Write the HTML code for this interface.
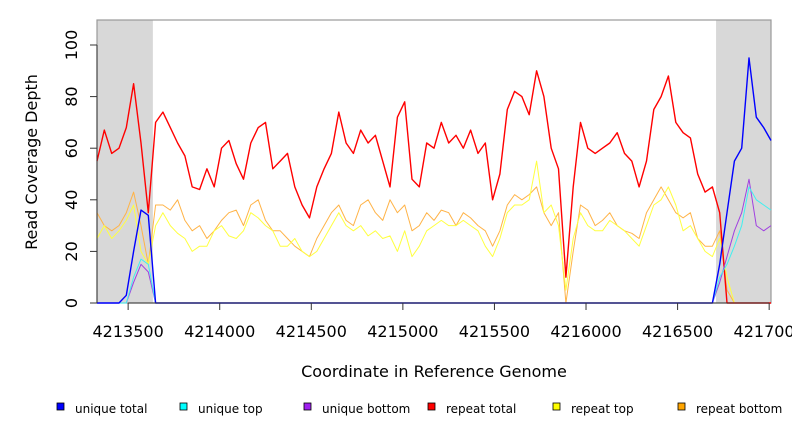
<!DOCTYPE html>
<html><head><meta charset="utf-8"><style>
body{margin:0;background:#fff;font-family:"Liberation Sans","DejaVu Sans",sans-serif}
svg text{font-family:"DejaVu Sans","Liberation Sans",sans-serif}
</style></head><body>
<svg id="chart" width="792" height="432" viewBox="0 0 792 432">
<g id="bg"></g><g id="series"></g><g id="axes"></g><g id="legend"></g>
</svg>
<script>
const startCoord = 4213330;
const stepBp = 40;
const repeatTotal = [55,67,58,60,68,85,62,35,70,74,68,62,57,45,44,52,45,60,63,54,48,62,68,70,52,55,58,45,38,33,45,52,58,74,62,58,67,62,65,55,45,72,78,48,45,62,60,70,62,65,60,67,58,62,40,50,75,82,80,73,90,80,60,52,10,45,70,60,58,60,62,66,58,55,45,55,75,80,88,70,66,64,50,43,45,35,0,0,0,0,0,0,0];
const repeatTop = [25,30,25,28,32,38,20,15,30,35,30,27,25,20,22,22,28,30,26,25,28,35,33,30,28,22,22,25,20,18,20,25,30,35,30,28,30,26,28,25,26,20,28,18,22,28,30,32,30,30,32,30,28,22,18,25,35,38,38,40,55,35,38,30,5,25,35,30,28,28,32,30,28,25,22,30,38,40,45,38,28,30,25,20,18,25,10,0,0,0,0,0,0];
const repeatBottom = [35,30,28,30,35,43,30,15,38,38,36,40,32,28,30,25,28,32,35,36,30,38,40,32,28,28,25,22,20,18,25,30,35,38,32,30,38,40,35,32,40,35,38,28,30,35,32,36,35,30,35,33,30,28,22,28,38,42,40,42,45,35,30,35,0,20,38,36,30,32,35,30,28,27,25,35,40,45,40,35,33,35,25,22,22,28,5,0,0,0,0,0,0];
const uniqueTotal = [0,0,0,0,3,20,36,34,0,0,0,0,0,0,0,0,0,0,0,0,0,0,0,0,0,0,0,0,0,0,0,0,0,0,0,0,0,0,0,0,0,0,0,0,0,0,0,0,0,0,0,0,0,0,0,0,0,0,0,0,0,0,0,0,0,0,0,0,0,0,0,0,0,0,0,0,0,0,0,0,0,0,0,0,0,15,35,55,60,95,72,68,63];
const uniqueTop = [0,0,0,0,0,10,17,15,0,0,0,0,0,0,0,0,0,0,0,0,0,0,0,0,0,0,0,0,0,0,0,0,0,0,0,0,0,0,0,0,0,0,0,0,0,0,0,0,0,0,0,0,0,0,0,0,0,0,0,0,0,0,0,0,0,0,0,0,0,0,0,0,0,0,0,0,0,0,0,0,0,0,0,0,0,10,15,22,30,45,40,38,36];
const uniqueBottom = [0,0,0,0,0,8,15,12,0,0,0,0,0,0,0,0,0,0,0,0,0,0,0,0,0,0,0,0,0,0,0,0,0,0,0,0,0,0,0,0,0,0,0,0,0,0,0,0,0,0,0,0,0,0,0,0,0,0,0,0,0,0,0,0,0,0,0,0,0,0,0,0,0,0,0,0,0,0,0,0,0,0,0,0,0,8,18,28,35,48,30,28,30];
const xTicks = [4213500,4214000,4214500,4215000,4215500,4216000,4216500,4217000];
const yTicks = [0,20,40,60,80,100];
const grayRegions = [[4213330,4213635],[4216710,4217010]];

const L=97,R=771,T=20,B=303;
const xMin=4213330,xMax=4217010;
const X=v=>L+(v-xMin)/(xMax-xMin)*(R-L);
const Y=v=>B-v*2.58;
const NS='http://www.w3.org/2000/svg';
function mk(tag,attrs,parent){const e=document.createElementNS(NS,tag);for(const k in attrs)e.setAttribute(k,attrs[k]);parent.appendChild(e);return e;}
const bg=document.getElementById('bg'),sg=document.getElementById('series'),ag=document.getElementById('axes'),lg=document.getElementById('legend');

grayRegions.forEach(g=>{
  const r=mk('rect',{x:X(g[0]),y:T,width:X(g[1])-X(g[0]),height:B-T,fill:'#d8d8d8'},bg);
  
  
});
const frame=mk('rect',{x:L,y:T,width:R-L,height:B-T,fill:'none',stroke:'#999','stroke-width':1.2},bg);



function linePath(arr){
  let d='';
  arr.forEach((v,i)=>{
    const x=X(Math.min(startCoord+i*stepBp,xMax));
    d+=(i?'L':'M')+x.toFixed(1)+','+Y(v).toFixed(1);
  });
  return d;
}
const seriesDefs=[
  ['repeat-bottom-line',repeatBottom,'#ffb347',1],
  ['repeat-top-line',repeatTop,'#ffff40',1],
  ['repeat-total-line',repeatTotal,'#ff0000',1.4],
  ['unique-bottom-line',uniqueBottom,'#a040e0',1],
  ['unique-top-line',uniqueTop,'#40f0f0',1],
  ['unique-total-line',uniqueTotal,'#0000ff',1.4]
];
seriesDefs.forEach(s=>{
  const p=mk('path',{d:linePath(s[1]),fill:'none',stroke:s[2],'stroke-width':s[3],'stroke-linejoin':'round'},sg);
  
  
});

mk('line',{x1:L,y1:Y(0),x2:L,y2:Y(100),stroke:'#333'},ag);
mk('line',{x1:X(4213500),y1:B,x2:X(4217000),y2:B,stroke:'#333'},ag);
yTicks.forEach(v=>{
  mk('line',{x1:90,y1:Y(v),x2:L,y2:Y(v),stroke:'#333'},ag);
  const t=mk('text',{x:0,y:0,transform:`translate(77,${Y(v)}) rotate(-90)`,'text-anchor':'middle','font-size':16,fill:'#000'},ag);
  t.textContent=v;
  
  
});
xTicks.forEach(v=>{
  mk('line',{x1:X(v),y1:B,x2:X(v),y2:B+7,stroke:'#333'},ag);
  const t=mk('text',{x:X(v),y:337,'text-anchor':'middle','font-size':16,fill:'#000'},ag);
  t.textContent=v;
  
  
});
const yt=mk('text',{transform:'translate(37,162) rotate(-90)','text-anchor':'middle','font-size':16},ag);
yt.textContent='Read Coverage Depth';


const xt=mk('text',{x:434,y:377,'text-anchor':'middle','font-size':16},ag);
xt.textContent='Coordinate in Reference Genome';



const legendLabels=['unique total','unique top','unique bottom','repeat total','repeat top','repeat bottom'];
const legendColors=['#0000ff','#00ffff','#a020f0','#ff0000','#ffff00','#ffa500'];
const legendX=[57,180,304,428,553,678];
legendLabels.forEach((lab,i)=>{
  const g=mk('g',{},lg);
  
  
  mk('rect',{x:legendX[i],y:403,width:7,height:7,fill:legendColors[i],stroke:'#000','stroke-width':0.8},g);
  const t=mk('text',{x:legendX[i]+18,y:413,'font-size':12},g);
  t.textContent=lab;
});
</script>
</body></html>
